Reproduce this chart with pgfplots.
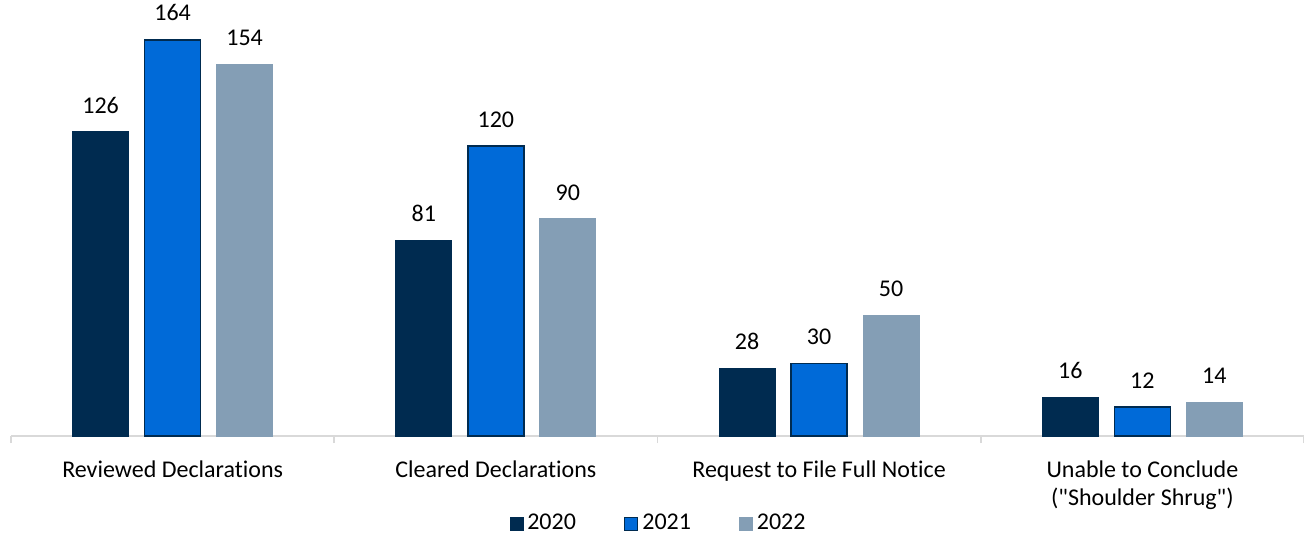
\documentclass[border=0pt]{standalone}
\usepackage{fontspec}
\setmainfont{Carlito}[Ligatures={TeXOff,CommonOff}]
\usepackage{pgfplots}
\pgfplotsset{compat=1.18}
\definecolor{c20}{HTML}{002B50}
\definecolor{c21}{HTML}{006AD8}
\definecolor{c22}{HTML}{849EB5}
\definecolor{axg}{HTML}{D9D9D9}
\pgfplotsset{sqleg/.style={legend image code/.code={\draw[##1] (0pt,-3.2pt) rectangle (6.5pt,3.3pt);}}}
\begin{document}
\fontsize{12}{14}\selectfont
\begin{tikzpicture}
\begin{axis}[
  scale only axis, width=646.5pt, height=218pt,
  xmin=-0.5, xmax=3.5, ymin=0, ymax=180.5,
  ybar=8pt, bar width=28pt,
  axis y line=none, axis x line=bottom,
  x axis line style={-, draw=axg, line width=0.9pt},
  xtick={0,1,2,3},
  xticklabels={Reviewed Declarations, Cleared Declarations, Request to File Full Notice, {Unable to Conclude\\("Shoulder Shrug")}},
  major tick length=0pt,
  minor xtick={-0.5,0.5,1.5,2.5,3.5},
  minor tick length=3.5pt, tick align=outside,
  minor tick style={draw=axg, line width=0.9pt},
  xticklabel style={align=center, font=\fontsize{12}{14}\selectfont, black, yshift=-8pt},
  nodes near coords,
  every node near coord/.append style={font=\fontsize{12}{14}\selectfont, black, anchor=south, inner sep=0pt, yshift=9pt},
  /pgf/number format/assume math mode=true,
  legend columns=3,
  legend style={at={(axis description cs:0.5,0)}, anchor=center, yshift=-44pt, xshift=1pt,
    draw=none, fill=none, font=\fontsize{12}{14}\selectfont,
    /tikz/every even column/.append style={column sep=22pt}},
]
\addplot[fill=c20, draw=c20, sqleg] coordinates {(0,126) (1,81) (2,28) (3,16)};
\addplot[fill=c21, draw=c20, line width=0.7pt, sqleg] coordinates {(0,164) (1,120) (2,30) (3,12)};
\addplot[fill=c22, draw=c22, sqleg] coordinates {(0,154) (1,90) (2,50) (3,14)};
\legend{2020,2021,2022}
\end{axis}
\pgfresetboundingbox
\path (-5.5pt,-49.5pt) rectangle (646.5pt,218pt);
\end{tikzpicture}
\end{document}
